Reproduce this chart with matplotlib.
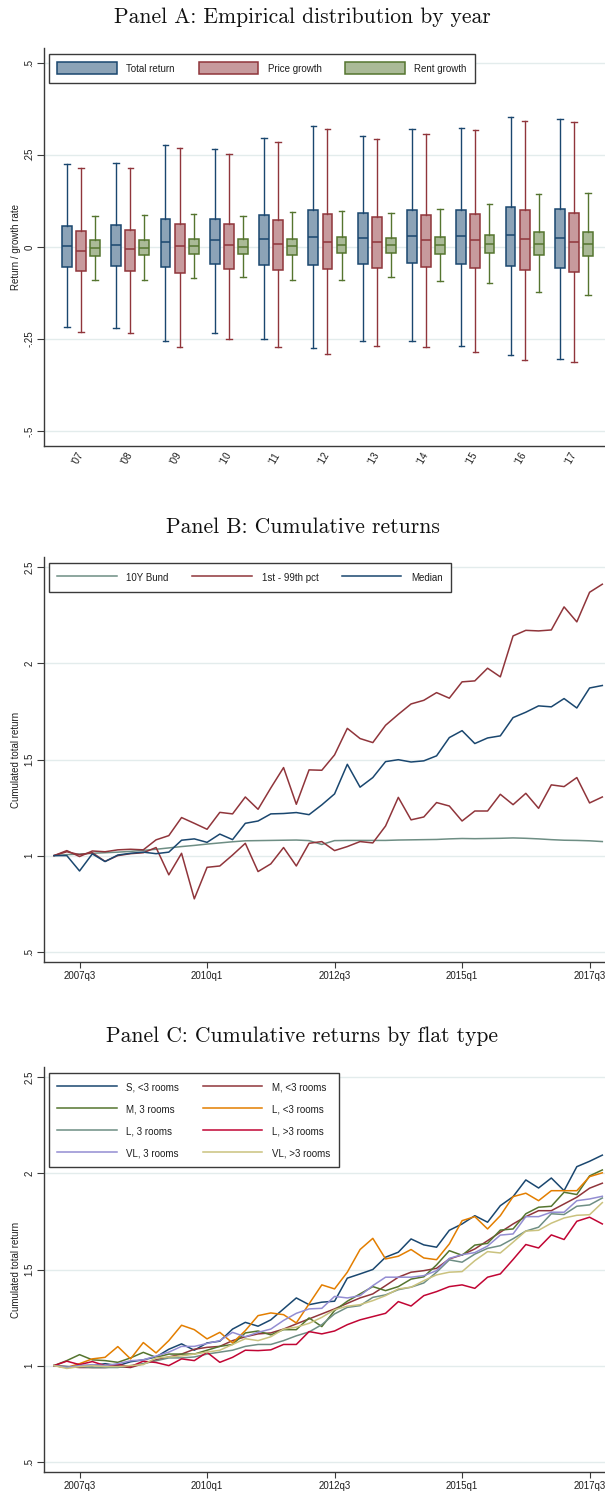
import numpy as np
import matplotlib
matplotlib.use("Agg")
import matplotlib.pyplot as plt
from matplotlib.patches import Patch
from matplotlib.lines import Line2D

plt.rcParams['font.family'] = ['Liberation Sans', 'DejaVu Sans']

# ---------------------------------------------------------------- data
years = ["'07", "'08", "'09", "'10", "'11", "'12", "'13", "'14", "'15", "'16", "'17"]

total_hi = [0.224, 0.228, 0.277, 0.267, 0.295, 0.329, 0.302, 0.320, 0.324, 0.352, 0.347]
total_q3 = [0.056, 0.058, 0.076, 0.076, 0.087, 0.101, 0.093, 0.101, 0.101, 0.109, 0.103]
total_med = [0.002, 0.005, 0.014, 0.018, 0.020, 0.026, 0.025, 0.029, 0.029, 0.031, 0.023]
total_q1 = [-0.054, -0.052, -0.055, -0.047, -0.049, -0.049, -0.046, -0.043, -0.047, -0.051, -0.058]
total_lo = [-0.218, -0.221, -0.257, -0.233, -0.250, -0.275, -0.256, -0.255, -0.269, -0.293, -0.305]

price_hi = [0.213, 0.215, 0.268, 0.253, 0.284, 0.320, 0.293, 0.307, 0.317, 0.343, 0.339]
price_q3 = [0.044, 0.046, 0.063, 0.063, 0.074, 0.090, 0.081, 0.087, 0.090, 0.099, 0.093]
price_med = [-0.012, -0.007, 0.001, 0.005, 0.007, 0.013, 0.014, 0.018, 0.018, 0.020, 0.013]
price_q1 = [-0.066, -0.065, -0.070, -0.059, -0.063, -0.060, -0.057, -0.054, -0.058, -0.063, -0.069]
price_lo = [-0.232, -0.233, -0.271, -0.250, -0.271, -0.291, -0.269, -0.272, -0.285, -0.308, -0.312]

rent_hi = [0.085, 0.087, 0.089, 0.085, 0.094, 0.098, 0.093, 0.104, 0.117, 0.143, 0.146]
rent_q3 = [0.018, 0.018, 0.022, 0.020, 0.022, 0.028, 0.025, 0.028, 0.033, 0.041, 0.041]
rent_med = [-0.004, -0.002, 0.002, 0.000, 0.002, 0.005, 0.005, 0.005, 0.008, 0.009, 0.009]
rent_q1 = [-0.025, -0.023, -0.019, -0.019, -0.022, -0.018, -0.016, -0.019, -0.017, -0.023, -0.025]
rent_lo = [-0.091, -0.091, -0.085, -0.083, -0.091, -0.089, -0.082, -0.093, -0.098, -0.123, -0.130]

quarters = [f"{y}q{q}" for y in range(2007, 2018) for q in range(1, 5)]
quarter_ticks = ["2007q3", "2010q1", "2012q3", "2015q1", "2017q3"]

bund = [1.0, 1.005, 1.008, 1.012, 1.015, 1.018, 1.022, 1.027, 1.033, 1.04,
        1.047, 1.053, 1.06, 1.066, 1.072, 1.077, 1.078, 1.079, 1.08, 1.081,
        1.078, 1.058, 1.078, 1.079, 1.079, 1.079, 1.079, 1.081, 1.082, 1.083,
        1.084, 1.087, 1.089, 1.088, 1.089, 1.09, 1.092, 1.09, 1.087, 1.083,
        1.08, 1.079, 1.077, 1.073]
pct99 = [1.0, 1.026, 0.995, 1.024, 1.02, 1.03, 1.033, 1.03, 1.082, 1.104,
         1.198, 1.168, 1.137, 1.225, 1.217, 1.305, 1.241, 1.352, 1.458, 1.267,
         1.446, 1.444, 1.524, 1.662, 1.609, 1.588, 1.678, 1.735, 1.789, 1.808,
         1.848, 1.819, 1.904, 1.909, 1.975, 1.93, 2.143, 2.172, 2.169, 2.174,
         2.294, 2.216, 2.37, 2.412]
pct01 = [1.0, 1.02, 1.005, 1.015, 0.97, 1.0, 1.01, 1.015, 1.042, 0.9,
         1.012, 0.775, 0.939, 0.946, 1.003, 1.064, 0.917, 0.957, 1.042, 0.946,
         1.064, 1.073, 1.026, 1.047, 1.073, 1.066, 1.154, 1.303, 1.186, 1.201,
         1.276, 1.258, 1.18, 1.232, 1.232, 1.319, 1.265, 1.324, 1.246, 1.368,
         1.359, 1.406, 1.274, 1.305]
median = [1.0, 1.0, 0.92, 1.009, 0.969, 1.003, 1.012, 1.018, 1.01, 1.018,
          1.08, 1.087, 1.069, 1.112, 1.083, 1.168, 1.18, 1.217, 1.219, 1.224,
          1.213, 1.264, 1.321, 1.475, 1.356, 1.406, 1.489, 1.499, 1.487, 1.493,
          1.519, 1.614, 1.65, 1.583, 1.612, 1.623, 1.718, 1.746, 1.779, 1.774,
          1.817, 1.768, 1.872, 1.885]

s_lt3 = [1.0, 0.99, 1.0, 1.0, 1.01, 1.0, 1.02, 1.03, 1.045, 1.085,
         1.113, 1.08, 1.118, 1.127, 1.19, 1.225, 1.205, 1.238, 1.295, 1.352,
         1.317, 1.33, 1.335, 1.455, 1.477, 1.5, 1.564, 1.59, 1.659, 1.628,
         1.616, 1.704, 1.737, 1.78, 1.746, 1.832, 1.879, 1.966, 1.924, 1.976,
         1.91, 2.035, 2.063, 2.095]
m_lt3 = [1.0, 0.995, 0.99, 0.99, 0.99, 0.995, 0.99, 1.01, 1.03, 1.045,
         1.06, 1.085, 1.095, 1.1, 1.13, 1.15, 1.165, 1.17, 1.19, 1.217,
         1.243, 1.269, 1.295, 1.324, 1.352, 1.373, 1.416, 1.46, 1.486, 1.494,
         1.506, 1.555, 1.576, 1.607, 1.65, 1.694, 1.737, 1.775, 1.806, 1.806,
         1.841, 1.876, 1.923, 1.949]
m_3 = [1.0, 1.026, 1.057, 1.03, 1.026, 1.017, 1.04, 1.069, 1.043, 1.06,
       1.06, 1.06, 1.08, 1.10, 1.11, 1.17, 1.18, 1.16, 1.187, 1.187,
       1.248, 1.203, 1.286, 1.335, 1.373, 1.411, 1.39, 1.411, 1.45, 1.462,
       1.524, 1.598, 1.574, 1.627, 1.636, 1.705, 1.711, 1.79, 1.824, 1.829,
       1.902, 1.89, 1.987, 2.018]
l_lt3 = [1.0, 0.99, 1.01, 1.035, 1.043, 1.099, 1.035, 1.12, 1.066, 1.13,
         1.21, 1.187, 1.139, 1.173, 1.118, 1.182, 1.26, 1.274, 1.265, 1.222,
         1.321, 1.42, 1.399, 1.486, 1.604, 1.662, 1.555, 1.569, 1.604, 1.56,
         1.551, 1.633, 1.754, 1.775, 1.711, 1.78, 1.879, 1.897, 1.858, 1.91,
         1.91, 1.91, 1.983, 2.003]
l_3 = [1.0, 0.995, 0.995, 0.99, 0.99, 0.99, 1.0, 1.01, 1.025, 1.04,
       1.04, 1.045, 1.06, 1.07, 1.08, 1.10, 1.11, 1.11, 1.13, 1.155,
       1.175, 1.213, 1.269, 1.303, 1.312, 1.355, 1.368, 1.395, 1.408, 1.43,
       1.486, 1.55, 1.538, 1.58, 1.61, 1.624, 1.66, 1.70, 1.72, 1.79,
       1.786, 1.829, 1.836, 1.872]
l_gt3 = [1.0, 1.023, 1.005, 1.021, 1.0, 1.005, 0.995, 1.023, 1.016, 1.0,
         1.035, 1.026, 1.069, 1.017, 1.043, 1.08, 1.078, 1.082, 1.11, 1.11,
         1.177, 1.165, 1.18, 1.213, 1.238, 1.255, 1.272, 1.333, 1.31, 1.364,
         1.385, 1.411, 1.42, 1.402, 1.46, 1.477, 1.552, 1.63, 1.612, 1.68,
         1.656, 1.751, 1.772, 1.737]
vl_3 = [1.0, 0.99, 1.0, 1.005, 1.0, 1.01, 1.025, 1.03, 1.05, 1.07,
        1.10, 1.10, 1.115, 1.13, 1.173, 1.15, 1.173, 1.19, 1.235, 1.272,
        1.295, 1.298, 1.36, 1.352, 1.364, 1.416, 1.46, 1.46, 1.46, 1.468,
        1.494, 1.558, 1.577, 1.588, 1.622, 1.679, 1.685, 1.775, 1.775, 1.798,
        1.798, 1.858, 1.867, 1.881]
vl_gt3 = [1.0, 0.985, 0.995, 1.0, 0.995, 0.995, 1.0, 1.005, 1.04, 1.045,
          1.05, 1.06, 1.07, 1.08, 1.11, 1.14, 1.13, 1.15, 1.19, 1.2,
          1.22, 1.251, 1.291, 1.309, 1.317, 1.338, 1.364, 1.399, 1.408, 1.442,
          1.472, 1.486, 1.489, 1.546, 1.593, 1.586, 1.642, 1.70, 1.704, 1.741,
          1.768, 1.782, 1.785, 1.848]

flat_labels = ["S, <3 rooms", "M, <3 rooms", "M, 3 rooms", "L, <3 rooms",
               "L, 3 rooms", "L, >3 rooms", "VL, 3 rooms", "VL, >3 rooms"]
flat_series = [s_lt3, m_lt3, m_3, l_lt3, l_3, l_gt3, vl_3, vl_gt3]

# ---------------------------------------------------------------- style
NAVY, MAROON, FOREST = "#1a476f", "#90353b", "#55752f"
DKORANGE, TEAL, CRANBERRY = "#e37e00", "#6e8e84", "#c10534"
LAVENDER, KHAKI = "#938dd2", "#cac27e"
FLAT_COLORS = [NAVY, MAROON, FOREST, DKORANGE, TEAL, CRANBERRY, LAVENDER, KHAKI]
FILL_NAVY, FILL_MAROON, FILL_FOREST = "#8ca3b7", "#c79a9d", "#aaba97"
SPINE = "#3a3a3a"
GRID = "#e3ecec"
TXT = "#1e1e1e"
LW = 1.1

W, H = 605, 1491
fig = plt.figure(figsize=(W / 100, H / 100), dpi=100)


def px_axes(left, top, right, bottom):
    return fig.add_axes([left / W, 1 - bottom / H, (right - left) / W, (bottom - top) / H])


def style_axes(ax, yticks, ylabels, ylabel):
    for s in ("top", "right"):
        ax.spines[s].set_visible(False)
    for s in ("left", "bottom"):
        ax.spines[s].set_color(SPINE)
        ax.spines[s].set_linewidth(1.0)
    ax.set_yticks(yticks, ylabels)
    ax.grid(axis="y", color=GRID, lw=1.0)
    ax.set_axisbelow(True)
    ax.tick_params(axis="y", length=4.7, width=0.8, color=SPINE, labelsize=7,
                   labelcolor=TXT, labelrotation=90, pad=2.5)
    plt.setp(ax.get_yticklabels(), va="center")
    ax.set_ylabel(ylabel, fontsize=7, color=TXT, va="center")
    ax.yaxis.set_label_coords((16.2 - 44.4) / (W - 44.4), 0.5)


legend_kw = dict(loc="upper left", borderaxespad=0, fontsize=7, handlelength=6.1,
                 handleheight=1.55, handletextpad=1.0, columnspacing=2.45,
                 borderpad=0.85, labelspacing=1.0, fancybox=False, framealpha=1,
                 edgecolor=SPINE)


def finish_legend(leg):
    leg.get_frame().set_linewidth(1.0)
    for t in leg.get_texts():
        t.set_color(TXT)


def panel_title(y_px, text):
    fig.text(0.5, 1 - y_px / H, text, ha="center", va="center",
             fontfamily="cmr10", fontsize=15.5, color="#111111")


# ---------------------------------------------------------------- panel A
axA = px_axes(44.4, 48, W, 446)
style_axes(axA, [-0.5, -0.25, 0, 0.25, 0.5], ["-.5", "-.25", "0", ".25", ".5"],
           "Return / growth rate")
axA.set_ylim(-0.541, 0.540)
axA.set_xlim(-0.742, 10.63)

groups = [
    ("Total return", total_lo, total_q1, total_med, total_q3, total_hi, -0.286, NAVY, FILL_NAVY),
    ("Price growth", price_lo, price_q1, price_med, price_q3, price_hi, 0.0, MAROON, FILL_MAROON),
    ("Rent growth", rent_lo, rent_q1, rent_med, rent_q3, rent_hi, 0.286, FOREST, FILL_FOREST),
]
xpos = np.arange(len(years))
handlesA = []
for label, lo, q1, med, q3, hi, off, edge, fill in groups:
    stats = [dict(whislo=a, q1=b, med=c, q3=d, whishi=e, fliers=[])
             for a, b, c, d, e in zip(lo, q1, med, q3, hi)]
    axA.bxp(stats, positions=xpos + off, widths=0.2, capwidths=0.11,
            patch_artist=True, showfliers=False, manage_ticks=False,
            boxprops=dict(facecolor=fill, edgecolor=edge, linewidth=1.1),
            medianprops=dict(color=edge, linewidth=1.1),
            whiskerprops=dict(color=edge, linewidth=1.0),
            capprops=dict(color=edge, linewidth=1.0))
    handlesA.append(Patch(facecolor=fill, edgecolor=edge, linewidth=1.1, label=label))

axA.set_xticks(xpos, years)
axA.tick_params(axis="x", length=0, pad=5, labelsize=7, labelcolor=TXT)
plt.setp(axA.get_xticklabels(), rotation=60, ha="right", va="center",
         rotation_mode="anchor")
legA = axA.legend(handles=handlesA, ncol=3, bbox_to_anchor=(0.0082, 0.9849), **legend_kw)
finish_legend(legA)
panel_title(17, "Panel A: Empirical distribution by year")

# ---------------------------------------------------------------- panels B, C
qx = np.arange(len(quarters))
qtick_pos = [quarters.index(q) for q in quarter_ticks]


def style_time_axes(ax):
    style_axes(ax, [0.5, 1, 1.5, 2, 2.5], [".5", "1", "1.5", "2", "2.5"],
               "Cumulated total return")
    ax.set_ylim(0.448, 2.552)
    ax.set_xlim(-0.757, 43.21)
    ax.set_xticks(qtick_pos, quarter_ticks)
    ax.tick_params(axis="x", length=4.2, width=0.8, color=SPINE, pad=2.5,
                   labelsize=7, labelcolor=TXT)


axB = px_axes(44.4, 557.3, W, 961.7)
style_time_axes(axB)
axB.plot(qx, bund, color=TEAL, lw=LW)
axB.plot(qx, pct99, color=MAROON, lw=LW)
axB.plot(qx, pct01, color=MAROON, lw=LW)
axB.plot(qx, median, color=NAVY, lw=LW)
handlesB = [Line2D([], [], color=TEAL, lw=LW, label="10Y Bund"),
            Line2D([], [], color=MAROON, lw=LW, label="1st - 99th pct"),
            Line2D([], [], color=NAVY, lw=LW, label="Median")]
legB = axB.legend(handles=handlesB, ncol=3, bbox_to_anchor=(0.0082, 0.9859), **legend_kw)
finish_legend(legB)
panel_title(527, "Panel B: Cumulative returns")

axC = px_axes(44.4, 1067.3, W, 1471.7)
style_time_axes(axC)
linesC = []
for series, color, label in zip(flat_series, FLAT_COLORS, flat_labels):
    ln, = axC.plot(qx, series, color=color, lw=LW, label=label)
    linesC.append(ln)
# legend reads row by row: left column holds the even entries
orderC = [0, 2, 4, 6, 1, 3, 5, 7]
legC = axC.legend(handles=[linesC[i] for i in orderC], ncol=2,
                  bbox_to_anchor=(0.0082, 0.9859), **legend_kw)
finish_legend(legC)
panel_title(1036, "Panel C: Cumulative returns by flat type")

fig.savefig("out.png", dpi=100, facecolor="white")
